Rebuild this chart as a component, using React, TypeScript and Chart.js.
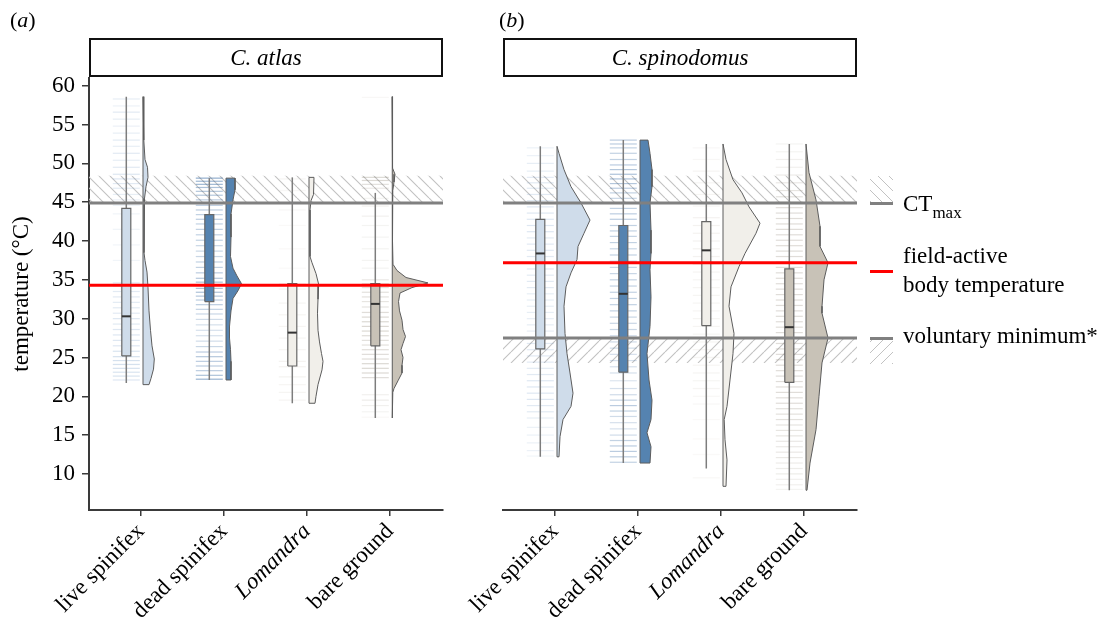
import React, { useEffect, useRef } from 'react';
import { Chart, registerables } from 'chart.js';

Chart.register(...registerables);

const FONT = '"Liberation Serif", "Times New Roman", serif';

// ---------------- data ----------------
const categories = ['live spinifex', 'dead spinifex', 'Lomandra', 'bare ground'];
const xTickValues = [1, 2, 3, 4];
const yTickValues = [10, 15, 20, 25, 30, 35, 40, 45, 50, 55, 60];

// C. atlas box-plot statistics (°C)
const atlasLow = [21.7, 22.1, 19.1, 17.2];
const atlasQ1 = [25.2, 32.2, 23.9, 26.5];
const atlasMedian = [30.3, 34.3, 28.2, 31.9];
const atlasQ3 = [44.2, 43.4, 34.5, 34.5];
const atlasHigh = [58.6, 48.1, 48.2, 46.2];

// C. spinodomus box-plot statistics (°C)
const spinoLow = [12.2, 11.4, 10.7, 7.9];
const spinoQ1 = [26.1, 23.1, 29.1, 21.8];
const spinoMedian = [38.4, 33.2, 38.8, 28.9];
const spinoQ3 = [42.8, 42.0, 42.5, 36.4];
const spinoHigh = [52.2, 53.0, 52.5, 52.5];

// reference temperatures
const ctMax = 44.9;
const ctMaxHatchTop = 48.4;
const atlasFieldActive = 34.3;
const spinoFieldActive = 37.2;
const voluntaryMin = 27.5;
const voluntaryHatchBottom = 24.3;

// half-violin density profiles: [temperature, density]
const atlasViolinLive = [[58.6, 0.8], [53, 0.8], [50.5, 2], [49.5, 4.5], [48.2, 5], [47, 3], [45.5, 1.5], [43, 1], [38.5, 1], [37.5, 2], [36, 4], [34, 5], [31, 6], [28.5, 7.5], [26.5, 9], [24.8, 11.3], [23.5, 10.5], [22.3, 8], [21.5, 6]];
const atlasViolinDead = [[48.1, 9], [46.6, 9], [45.3, 7], [43.5, 5], [40.5, 5], [38, 4.5], [36.5, 7], [35.5, 11], [34.5, 15.5], [33.6, 12], [32.6, 7], [31, 5], [29, 3.5], [27.5, 3.5], [26, 4.5], [24.5, 5], [22.1, 5]];
const atlasViolinLomandra = [[48.2, 5], [46, 4.5], [45.2, 2], [44, 1], [40, 1], [38, 1], [37.2, 3], [35.8, 7], [34.4, 9.7], [32.5, 9], [30.7, 8.5], [28.5, 9], [27, 10.5], [25.5, 12.5], [24.5, 14], [23.4, 13], [21.5, 9], [20, 7], [19.1, 6]];
const atlasViolinBare = [[58.6, 0.4], [51, 0.4], [49.4, 0.8], [48.6, 3], [47.6, 2], [46.5, 0.8], [40, 0.5], [37, 1], [36.2, 5], [35.3, 14], [34.6, 36], [34, 20], [33.3, 8], [32.2, 6.5], [31, 7.5], [29.8, 10], [28.6, 11], [27.7, 13.5], [26.8, 11], [26, 9], [25, 11], [24, 10], [23, 10], [22, 6], [21, 2], [20.5, 0.8], [17.2, 0.8]];

const spinoViolinLive = [[52.2, 0.8], [51.3, 2], [49.2, 7], [47, 14], [44.9, 24], [42.7, 33], [41, 27], [39.3, 21], [37.6, 20], [35.9, 14], [34.1, 9], [31.6, 7], [28.1, 8], [25.5, 10], [23, 13], [20.4, 16], [18.7, 14], [17, 6], [14.8, 3], [12.2, 2]];
const spinoViolinDead = [[53, 8], [51.3, 10], [49.2, 12], [47, 12], [44.9, 10], [41.4, 11], [38.4, 11], [36.3, 10], [32.8, 11], [29, 10], [25.5, 7], [22.1, 9], [19.5, 12], [17, 11], [15.3, 7], [13.5, 11], [11.4, 10]];
const spinoViolinLomandra = [[52.5, 0.8], [50.5, 3], [47.9, 10], [46.2, 19], [44.4, 26], [42.3, 37], [41, 33], [38.4, 22], [36.7, 16], [34.1, 8], [31.6, 6], [28.1, 11], [25.5, 10], [22.1, 7], [18.7, 4], [17, 1.2], [14.4, 2], [11.8, 4], [8.4, 3]];
const spinoViolinBare = [[52.5, 0.8], [48.8, 3], [45.3, 10], [41.9, 14], [39.3, 14], [37.2, 22], [35, 18], [31.6, 16], [30.7, 16], [27.5, 22], [24.3, 16], [20, 13], [15.7, 10], [11.4, 4], [7.9, 1]];

// raw observations ("rain") rows: [temperature, relative count]
const atlasRainLive = [[58.3, .25], [57.4, .2], [56.6, .3], [55.7, .25], [54.8, .2], [53.9, .25], [53, .3], [52.2, .25], [51.3, .3], [50.4, .25], [49.5, .3], [48.6, .35], [48, .35], [47.4, .3], [46.8, .3], [46, .25], [45.3, .2], [44.6, .2], [43.5, .15], [41.5, .15], [39.5, .15], [37.5, .15], [34.6, .35], [34.2, .35], [33.5, .3], [32.8, .3], [32.1, .3], [31.4, .3], [30.7, .3], [30, .35], [29.3, .3], [28.6, .35], [27.9, .35], [27.2, .35], [26.5, .35], [25.8, .4], [25.1, .45], [24.6, .45], [24.1, .45], [23.6, .45], [23.1, .4], [22.6, .4], [22.1, .35]];
const atlasRainDead = [[48.1, .8], [47.7, .7], [47.3, .7], [46.9, .6], [46.4, .55], [45.9, .55], [45.3, .5], [44.6, .5], [44, .5], [43.4, .45], [42.8, .5], [42.2, .45], [41.5, .45], [40.8, .45], [40.1, .45], [39.4, .4], [38.7, .4], [38, .4], [37.3, .45], [36.6, .45], [35.9, .5], [35.2, .55], [34.7, .6], [34.3, .7], [33.9, .6], [33.4, .6], [32.9, .55], [32.4, .5], [31.8, .5], [31.2, .45], [30.6, .4], [29.9, .35], [29.2, .3], [28.5, .3], [27.8, .3], [27.1, .35], [26.4, .4], [25.7, .5], [25.1, .55], [24.5, .5], [23.9, .5], [23.3, .5], [22.7, .6], [22.2, .75]];
const atlasRainLomandra = [[48, .2], [46.5, .15], [44, .15], [42, .12], [39, .12], [36.5, .12], [34.5, .2], [33.8, .2], [32, .2], [30.5, .2], [29, .2], [27.5, .2], [26, .2], [24.5, .25], [23.8, .25], [22.5, .25], [21.5, .2], [20.5, .2], [19.5, .2]];
const atlasRainBare = [[58.5, .1], [48.2, .5], [47.8, .5], [47.3, .4], [46.8, .3], [45.5, .15], [44.5, .2], [43.2, .2], [42, .15], [40.5, .15], [39, .15], [37.5, .15], [36.5, .15], [35, .3], [34.5, .4], [34, .4], [33.4, .4], [32.8, .4], [32.2, .35], [31.5, .35], [30.8, .45], [30.2, .5], [29.6, .5], [29, .5], [28.4, .5], [27.8, .45], [27.2, .4], [26.6, .4], [26, .45], [25.4, .45], [24.8, .45], [24.2, .5], [23.6, .5], [23, .5], [22.4, .45], [20.2, .2], [19.5, .25], [18.8, .2], [18, .15], [17.3, .1]];

const spinoRainLive = [[52, .2], [51, .2], [50, .25], [49, .25], [48.2, .3], [47.5, .3], [46.8, .3], [46, .3], [45.2, .3], [44.4, .35], [43.6, .35], [42.8, .35], [42, .35], [41.2, .35], [40.4, .3], [39.6, .3], [38.8, .3], [38, .3], [37.2, .3], [36.4, .3], [35.6, .3], [34.8, .3], [34, .3], [33.2, .25], [32.4, .25], [31.6, .25], [30.8, .25], [30, .25], [29.2, .25], [28.4, .25], [27.6, .3], [26.8, .3], [26, .3], [25.2, .3], [24.4, .3], [23.6, .3], [22.8, .3], [22, .35], [21.2, .35], [20.4, .35], [19.6, .35], [18.8, .3], [18, .3], [17.2, .25], [16, .2], [15, .2], [14, .2], [13, .2], [12.3, .15]];
const spinoRainDead = [[53, .5], [52.5, .5], [52, .45], [51.3, .45], [50.5, .45], [49.8, .5], [49.2, .55], [48.6, .6], [48, .6], [47.4, .55], [46.8, .5], [46.2, .45], [45.5, .4], [44.2, .45], [43.5, .5], [42.8, .5], [42, .45], [41.3, .45], [40.6, .45], [39.8, .45], [39, .4], [38.2, .45], [37.4, .45], [36.6, .4], [35.8, .4], [35, .45], [34.2, .45], [33.4, .45], [32.6, .45], [31.8, .45], [31, .45], [30.2, .4], [29.4, .4], [28.6, .4], [27.8, .35], [27, .35], [26.2, .35], [25.4, .3], [24.6, .3], [23.8, .3], [23, .3], [22, .25], [21, .3], [20.2, .35], [19.5, .45], [18.8, .5], [18.1, .45], [17.4, .35], [16.6, .3], [15.8, .3], [15, .35], [14.3, .45], [13.6, .5], [12.9, .5], [12.2, .5], [11.5, .45]];
const spinoRainLomandra = [[52, .15], [50.5, .15], [49, .2], [47.5, .2], [46, .2], [44.5, .2], [43, .25], [42, .25], [41, .25], [40, .25], [39, .25], [38, .25], [37, .25], [36, .2], [35, .2], [34, .2], [33, .2], [32, .2], [31, .2], [30, .2], [29, .2], [28, .2], [27, .2], [26, .2], [25, .2], [24, .2], [23, .2], [22, .2], [21, .2], [20, .15], [19, .15], [17, .12], [14.5, .12], [12.5, .12], [9.5, .15]];
const spinoRainBare = [[52.5, .15], [51.5, .15], [50.5, .2], [49.5, .2], [48.5, .25], [47.5, .3], [46.5, .35], [45.7, .4], [45, .45], [44.3, .45], [43.6, .45], [42.9, .45], [42.2, .45], [41.5, .45], [40.8, .45], [40.1, .45], [39.4, .45], [38.7, .45], [38, .45], [37.3, .45], [36.6, .45], [35.9, .45], [35.2, .45], [34.5, .45], [33.8, .45], [33.1, .45], [32.4, .45], [31.7, .45], [31, .45], [30.3, .45], [29.6, .45], [28.9, .45], [28.2, .45], [27.5, .45], [26.8, .45], [26.1, .45], [25.4, .45], [24.7, .45], [24, .45], [23.3, .45], [22.6, .45], [21.9, .45], [21.2, .45], [20.5, .45], [19.8, .45], [19.1, .45], [18.4, .4], [17.7, .4], [17, .4], [16.3, .35], [15.6, .35], [14.9, .35], [14.2, .3], [13.5, .3], [12.8, .3], [12.1, .3], [11.4, .25], [10.7, .25], [10, .25], [9.3, .2], [8.6, .2], [8, .15]];

// ---------------- styling / layout ----------------
const Y_MIN = 5.35;
const Y_MAX = 61;
const UNIT_PX = 83;
const X_MIN = 1 - 52 / UNIT_PX;
const X_MAX = 4 + 53 / UNIT_PX;
const BOX_SHIFT_PX = -14.7;
const BOX_HALF_PX = 4.5;
const VIOLIN_SHIFT_PX = 2;
const RAIN_HALF_PX = 13.5;
const RAIN_ALPHA = 0.7;

const fillColors = ['#cfdcea', '#5583b0', '#f1efea', '#c8c2b7'];
const rainRGB = ['120,158,200', '60,110,165', '190,183,170', '155,147,133'];
const GRAY_LINE = '#808080';
const AXIS = '#3a3a3a';
const CLEAR = 'rgba(0,0,0,0)';

type Spec = {
  low: number[]; q1: number[]; med: number[]; q3: number[]; high: number[];
  violins: number[][][]; rains: number[][][]; fieldActive: number; showVoluntary: boolean;
};

const atlasSpec: Spec = {
  low: atlasLow, q1: atlasQ1, med: atlasMedian, q3: atlasQ3, high: atlasHigh,
  violins: [atlasViolinLive, atlasViolinDead, atlasViolinLomandra, atlasViolinBare],
  rains: [atlasRainLive, atlasRainDead, atlasRainLomandra, atlasRainBare],
  fieldActive: atlasFieldActive, showVoluntary: false,
};
const spinoSpec: Spec = {
  low: spinoLow, q1: spinoQ1, med: spinoMedian, q3: spinoQ3, high: spinoHigh,
  violins: [spinoViolinLive, spinoViolinDead, spinoViolinLomandra, spinoViolinBare],
  rains: [spinoRainLive, spinoRainDead, spinoRainLomandra, spinoRainBare],
  fieldActive: spinoFieldActive, showVoluntary: true,
};

function makeHatch(ctx: CanvasRenderingContext2D, back: boolean) {
  const s = 11;
  const tile = document.createElement('canvas');
  tile.width = s; tile.height = s;
  const g = tile.getContext('2d')!;
  g.strokeStyle = '#c2c2c2';
  g.lineWidth = 1.1;
  g.beginPath();
  for (const o of [-s, 0, s]) {
    if (back) { g.moveTo(o, 0); g.lineTo(o + s, s); }
    else { g.moveTo(o, s); g.lineTo(o + s, 0); }
  }
  g.stroke();
  return ctx.createPattern(tile, 'repeat');
}

const rect = (x0: number, x1: number, y0: number, y1: number) => [
  { x: x0, y: y0 }, { x: x1, y: y0 }, { x: x1, y: y1 }, { x: x0, y: y1 }, { x: x0, y: y0 },
];

function buildDatasets(spec: Spec, hatchBack: any, hatchFwd: any) {
  const ds: any[] = [];
  const line = (pts: any[], color: string, width: number, order: number) => ({
    type: 'line', data: pts, borderColor: color, borderWidth: width, pointRadius: 0, fill: false, order, tension: 0,
  });
  const shape = (pts: any[], bg: any, border: string, width: number, order: number) => ({
    type: 'line', data: pts, backgroundColor: bg, borderColor: border, borderWidth: width, pointRadius: 0, fill: 'shape', order, tension: 0,
  });

  ds.push(line([{ x: X_MIN, y: spec.fieldActive }, { x: X_MAX, y: spec.fieldActive }], '#ff0000', 3, 0));
  ds.push(line([{ x: X_MIN, y: ctMax }, { x: X_MAX, y: ctMax }], GRAY_LINE, 3, 0));
  if (spec.showVoluntary) {
    ds.push(line([{ x: X_MIN, y: voluntaryMin }, { x: X_MAX, y: voluntaryMin }], GRAY_LINE, 3, 0));
    ds.push(shape(rect(X_MIN, X_MAX, voluntaryHatchBottom, voluntaryMin), hatchFwd, CLEAR, 0, 9));
  }
  ds.push(shape(rect(X_MIN, X_MAX, ctMax, ctMaxHatchTop), hatchBack, CLEAR, 0, 9));

  categories.forEach((_, i) => {
    const c = xTickValues[i];
    const bx = c + BOX_SHIFT_PX / UNIT_PX;
    const hw = BOX_HALF_PX / UNIT_PX;
    const vx = c + VIOLIN_SHIFT_PX / UNIT_PX;
    const rain = spec.rains[i];
    ds.push({
      type: 'scatter', data: rain.map(([t]) => ({ x: bx, y: t })), showLine: false,
      pointStyle: 'line', pointRadius: RAIN_HALF_PX, pointBorderWidth: 1.2,
      pointBorderColor: rain.map(([, n]) => `rgba(${rainRGB[i]},${(n * RAIN_ALPHA).toFixed(3)})`), order: 8,
    });
    ds.push(line([{ x: bx, y: spec.low[i] }, { x: bx, y: spec.high[i] }], '#7d7d7d', 1.5, 7));
    ds.push(shape(rect(bx - hw, bx + hw, spec.q1[i], spec.q3[i]), fillColors[i], '#666666', 1.2, 6));
    ds.push(line([{ x: bx - hw, y: spec.med[i] }, { x: bx + hw, y: spec.med[i] }], '#333333', 2, 5));
    const prof = spec.violins[i];
    const top = prof[0][0];
    const bottom = prof[prof.length - 1][0];
    const pts = [{ x: vx, y: top }, ...prof.map(([t, d]) => ({ x: vx + d / UNIT_PX, y: t })), { x: vx, y: bottom }, { x: vx, y: top }];
    ds.push(shape(pts, fillColors[i], '#5c5c5c', 1, 4));
  });
  return ds;
}

function Panel({ spec, left, width, padLeft, padRight, showY }: { spec: Spec; left: number; width: number; padLeft: number; padRight: number; showY: boolean }) {
  const ref = useRef<HTMLCanvasElement>(null);
  useEffect(() => {
    const canvas = ref.current!;
    const ctx = canvas.getContext('2d')!;
    const hatchBack = makeHatch(ctx, true);
    const hatchFwd = makeHatch(ctx, false);
    const chart = new Chart(canvas, {
      type: 'line',
      data: { datasets: buildDatasets(spec, hatchBack, hatchFwd) },
      options: {
        responsive: true,
        maintainAspectRatio: false,
        animation: false,
        events: [],
        layout: { autoPadding: false, padding: { left: padLeft, right: padRight, top: 78, bottom: 0 } },
        plugins: { legend: { display: false }, tooltip: { enabled: false } },
        scales: {
          x: {
            type: 'linear', min: X_MIN, max: X_MAX,
            afterBuildTicks: (s: any) => { s.ticks = xTickValues.map((v) => ({ value: v })); },
            afterFit: (s: any) => { s.height = 113; s.paddingLeft = 0; s.paddingRight = 0; },
            ticks: {
              autoSkip: false, minRotation: 45, maxRotation: 45, padding: 2, color: '#000',
              font: (c: any) => ({ family: FONT, size: 23, style: c.tick && c.tick.value === 3 ? 'italic' : 'normal' }),
              callback: (v: any) => categories[Number(v) - 1],
            },
            grid: { drawOnChartArea: false, drawTicks: true, tickLength: 6, color: AXIS, lineWidth: 1.5 },
            border: { display: true, color: AXIS, width: 2 },
          },
          y: {
            type: 'linear', min: Y_MIN, max: Y_MAX, display: showY,
            afterBuildTicks: (s: any) => { s.ticks = yTickValues.map((v) => ({ value: v })); },
            afterFit: (s: any) => { s.width = showY ? 89 : 0; s.paddingTop = 0; s.paddingBottom = 0; },
            ticks: { padding: 7, color: '#000', font: { family: FONT, size: 23 } },
            grid: { drawOnChartArea: false, drawTicks: true, tickLength: 7, color: AXIS, lineWidth: 1.5 },
            border: { display: true, color: AXIS, width: 2 },
            title: { display: true, text: 'temperature (°C)', color: '#000', font: { family: FONT, size: 23 }, padding: { top: 8, bottom: 0 } },
          },
        },
      } as any,
    });
    return () => chart.destroy();
  }, []);
  return (
    <div style={{ position: 'absolute', left, top: 0, width, height: 623 }}>
      <canvas ref={ref} />
    </div>
  );
}

const textStyle: React.CSSProperties = { position: 'absolute', fontFamily: FONT, fontSize: 23, lineHeight: '23px', color: '#000', whiteSpace: 'nowrap' };

function Strip({ left, label }: { left: number; label: string }) {
  return (
    <div style={{ position: 'absolute', left, top: 38, width: 354, height: 39, boxSizing: 'border-box', border: '2px solid #111', display: 'flex', alignItems: 'center', justifyContent: 'center', fontFamily: FONT, fontSize: 23, fontStyle: 'italic', color: '#000' }}>
      {label}
    </div>
  );
}

export default function App() {
  return (
    <div style={{ position: 'fixed', left: 0, top: 0, width: 1110, height: 623, background: '#fff', overflow: 'hidden' }}>
      <Panel spec={atlasSpec} left={0} width={450} padLeft={0} padRight={7} showY={true} />
      <Panel spec={spinoSpec} left={445} width={665} padLeft={58} padRight={253} showY={false} />
      <div style={{ ...textStyle, left: 10, top: 8, fontSize: 22 }}>(<i>a</i>)</div>
      <div style={{ ...textStyle, left: 499, top: 8, fontSize: 22 }}>(<i>b</i>)</div>
      <Strip left={89} label="C. atlas" />
      <Strip left={503} label="C. spinodomus" />
      {/* legend keys */}
      <div style={{ position: 'absolute', left: 870, top: 176, width: 23, height: 26, background: 'repeating-linear-gradient(45deg, #c2c2c2 0 1px, rgba(0,0,0,0) 1px 7.8px)' }} />
      <div style={{ position: 'absolute', left: 870, top: 201.5, width: 23, height: 3, background: GRAY_LINE }} />
      <div style={{ position: 'absolute', left: 870, top: 269.5, width: 23, height: 3, background: '#ff0000' }} />
      <div style={{ position: 'absolute', left: 870, top: 336.5, width: 23, height: 3, background: GRAY_LINE }} />
      <div style={{ position: 'absolute', left: 870, top: 339.5, width: 23, height: 24, background: 'repeating-linear-gradient(-45deg, #c2c2c2 0 1px, rgba(0,0,0,0) 1px 7.8px)' }} />
      {/* legend text */}
      <div style={{ ...textStyle, left: 903, top: 191.5 }}>CT<span style={{ fontSize: 17, position: 'relative', top: 7, lineHeight: 1 }}>max</span></div>
      <div style={{ ...textStyle, left: 903, top: 243.5 }}>field-active</div>
      <div style={{ ...textStyle, left: 903, top: 272.5 }}>body temperature</div>
      <div style={{ ...textStyle, left: 903, top: 324 }}>voluntary minimum*</div>
    </div>
  );
}
